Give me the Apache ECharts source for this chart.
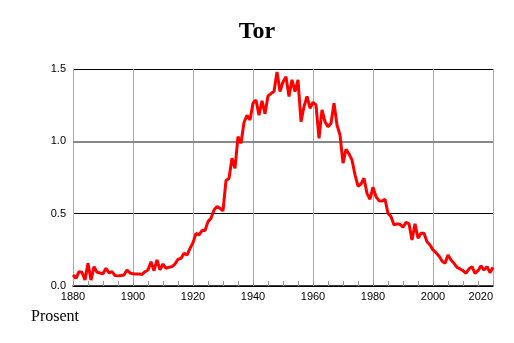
<!DOCTYPE html>
<html>
<head>
<meta charset="utf-8">
<script src="https://cdn.jsdelivr.net/npm/echarts@6/dist/echarts.min.js"></script>
<style>
  html, body { margin: 0; padding: 0; background: #fff; }
  #main { width: 514px; height: 343px; }
</style>
</head>
<body>
<div id="main"></div>
<script>
var startYear = 1880;
// prosent per år, 1880-2020
var tor = [
  0.076, 0.053, 0.099, 0.095, 0.041, 0.157, 0.041, 0.134, 0.095, 0.090,
  0.085, 0.122, 0.090, 0.099, 0.072, 0.070, 0.072, 0.076, 0.111, 0.090,
  0.085, 0.083, 0.083, 0.080, 0.099, 0.111, 0.168, 0.106, 0.180, 0.111,
  0.152, 0.122, 0.130, 0.134, 0.152, 0.185, 0.191, 0.226, 0.214, 0.260,
  0.300, 0.364, 0.353, 0.383, 0.383, 0.445, 0.468, 0.526, 0.549, 0.537,
  0.520, 0.728, 0.745, 0.883, 0.814, 1.032, 0.987, 1.130, 1.180, 1.148,
  1.263, 1.286, 1.180, 1.280, 1.190, 1.314, 1.330, 1.344, 1.480, 1.344,
  1.410, 1.447, 1.310, 1.425, 1.344, 1.425, 1.136, 1.240, 1.310, 1.229,
  1.270, 1.252, 1.020, 1.217, 1.136, 1.100, 1.125, 1.263, 1.113, 1.044,
  0.849, 0.945, 0.913, 0.871, 0.768, 0.690, 0.705, 0.745, 0.640, 0.600,
  0.683, 0.618, 0.590, 0.588, 0.600, 0.503, 0.480, 0.422, 0.429, 0.427,
  0.406, 0.440, 0.430, 0.318, 0.430, 0.330, 0.364, 0.364, 0.306, 0.284,
  0.249, 0.230, 0.207, 0.173, 0.157, 0.214, 0.180, 0.157, 0.129, 0.118,
  0.106, 0.088, 0.118, 0.134, 0.088, 0.106, 0.140, 0.110, 0.134, 0.092,
  0.129
];

var data = [];
for (var i = 0; i < tor.length; i++) {
  data.push([startYear + i, tor[i]]);
}

var myChart = echarts.init(document.getElementById('main'));

var option = {
  animation: false,
  title: [{
    text: 'Tor',
    left: 'center',
    top: 20,
    padding: 0,
    textStyle: { fontFamily: 'Liberation Serif', fontSize: 24, fontWeight: 'bold', color: '#000' }
  }, {
    text: 'Prosent',
    left: 31,
    top: 309,
    padding: 0,
    textStyle: { fontFamily: 'Liberation Serif', fontSize: 16, fontWeight: 'normal', color: '#000' }
  }],
  grid: { left: 73, right: 21, top: 69, bottom: 57 },
  xAxis: {
    type: 'value',
    min: 1880,
    max: 2020,
    interval: 20,
    axisLine: { lineStyle: { color: '#000', width: 1.5 } },
    axisTick: { show: true, inside: true, length: 5, lineStyle: { color: '#999' } },
    minorTick: { show: true, splitNumber: 4, length: 5, lineStyle: { color: '#999' } },
    splitLine: { show: true, lineStyle: { color: '#aaa', width: 1 } },
    axisLabel: {
      color: '#000', fontFamily: 'Liberation Sans', fontSize: 11, margin: 5,
      alignMaxLabel: 'right',
      formatter: function (v) { return String(v); }
    }
  },
  yAxis: {
    type: 'value',
    min: 0,
    max: 1.5,
    interval: 0.5,
    axisLine: { show: true, lineStyle: { color: '#aaa' } },
    axisTick: { show: false },
    splitLine: { show: true, lineStyle: { color: ['#000', '#000', '#888', '#000'], width: 1 } },
    axisLabel: {
      color: '#000', fontFamily: 'Liberation Sans', fontSize: 11, margin: 7,
      formatter: function (v) { return v.toFixed(1); }
    }
  },
  series: [{
    type: 'line',
    data: data,
    showSymbol: false,
    lineStyle: { color: '#ff0000', width: 3 },
    markLine: {
      silent: true,
      symbol: 'none',
      label: { show: false },
      lineStyle: { color: '#888', width: 2, type: 'solid' },
      data: [{ yAxis: 1.0 }],
      z: 1
    }
  }]
};

myChart.setOption(option);
</script>
</body>
</html>
